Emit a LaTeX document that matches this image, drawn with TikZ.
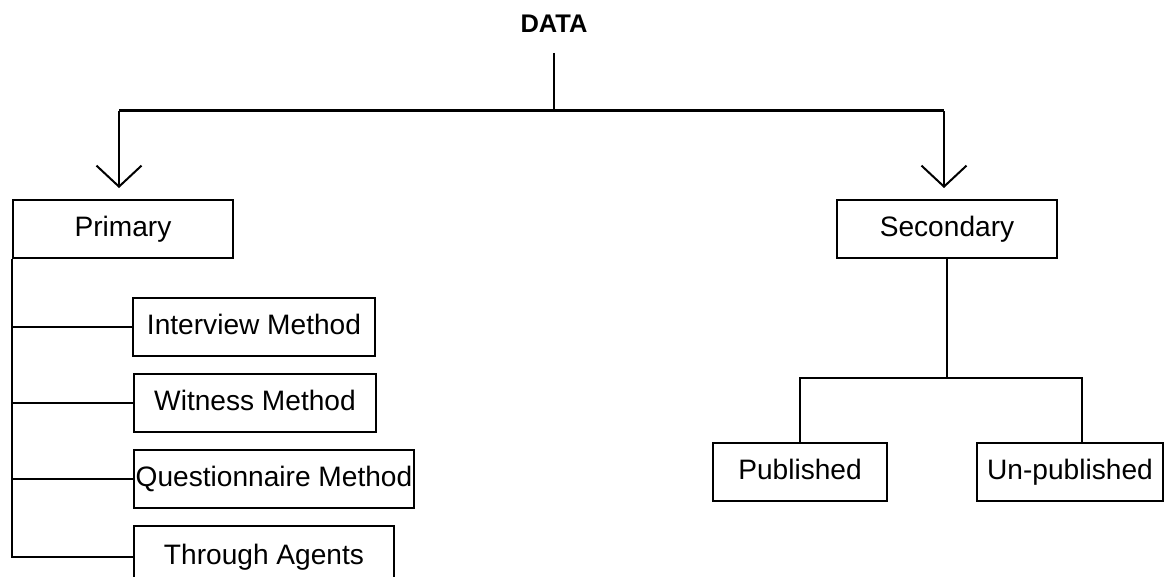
\documentclass[tikz,border=0pt]{standalone}
\usepackage{fontspec}
\setmainfont{Liberation Sans}
\usetikzlibrary{calc,arrows.meta,positioning}

\begin{document}
\begin{tikzpicture}[x=0.02cm,y=-0.02cm,line width=0.04cm,
    font=\fontsize{16}{19}\selectfont,
    box/.style={draw,minimum height=1.16cm,inner sep=0pt,
      text height=1.1em,text depth=0.25em},
    arr/.style={-{Straight Barb[length=0.42cm,width=0.9cm]},shorten >=0.22cm}]
  \useasboundingbox (0,0) rectangle (1164,577);

  \node (data) at (554,24) [font=\fontsize{14.5}{17}\selectfont\bfseries,
    inner sep=0pt,outer ysep=0.4cm] {DATA};
  \coordinate (busL) at (119,111);
  \coordinate (busR) at (944,111);

  \node (prim) at (123,229) [box,minimum width=4.4cm] {Primary};
  \node (sec) at (947,229) [box,minimum width=4.4cm] {Secondary};

  \node (intv) at (254,327) [box,minimum width=4.84cm,minimum height=1.18cm] {Interview Method};
  \node (witn) at (255,403) [box,minimum width=4.86cm] {Witness Method};
  \node (ques) at (274,479) [box,minimum width=5.6cm] {Questionnaire Method};
  \node (agnt) at (264,557) [box,minimum width=5.2cm,minimum height=1.24cm] {Through Agents};

  \node (publ) at (800,472) [box,minimum width=3.5cm,minimum height=1.18cm] {Published};
  \node (unpb) at (1070,472) [box,minimum width=3.72cm,minimum height=1.18cm] {Un-published};
  \coordinate (junc) at (947,378);

  \draw (data.south) -- (data.south |- busL);
  \draw[line width=0.06cm] (busL) -- (busR);
  \draw[arr] (busL) -- (busL |- prim.north);
  \draw[arr] (busR) -- (busR |- sec.north);

  \draw (prim.south west) |- (agnt.west);
  \foreach \n in {intv,witn,ques} {
    \draw (prim.south west |- \n.west) -- (\n.west);
  }

  \draw (sec.south) -- (junc);
  \draw (publ.north) |- (junc) -| ([xshift=0.24cm]unpb.north);
\end{tikzpicture}
\end{document}
